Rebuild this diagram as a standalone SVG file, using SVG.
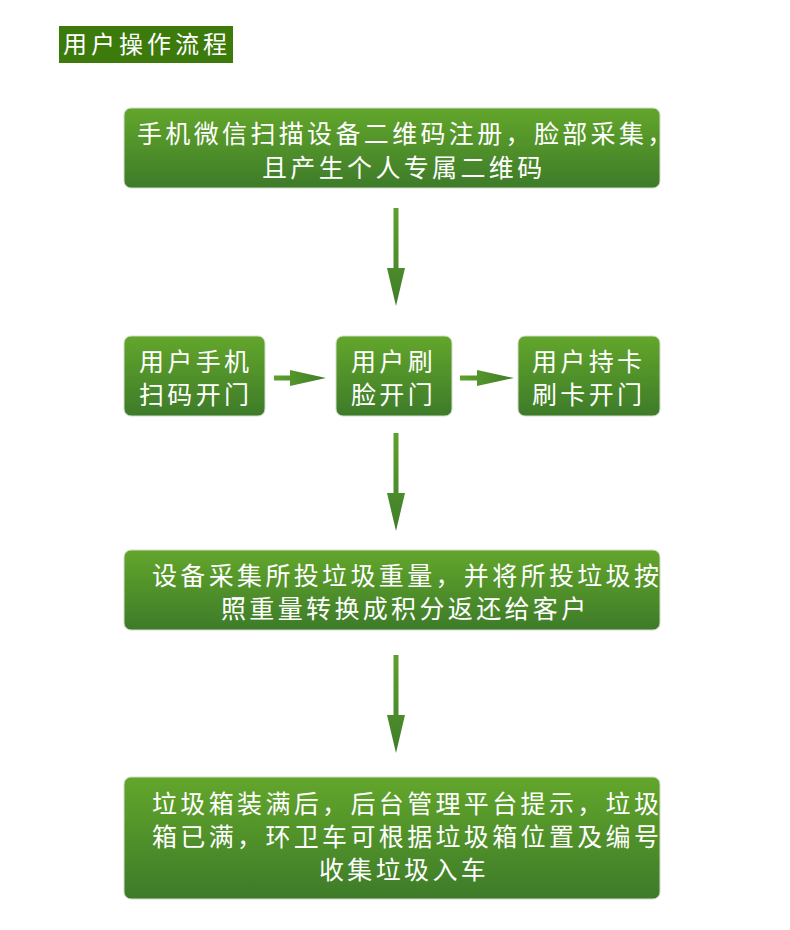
<svg xmlns="http://www.w3.org/2000/svg" width="790" height="930" viewBox="0 0 790 930">
<defs>
<linearGradient id="g" x1="0" y1="0" x2="0" y2="1">
<stop offset="0" stop-color="#63a62b"/>
<stop offset="1" stop-color="#3d7b29"/>
</linearGradient>
<linearGradient id="ga" x1="0" y1="0" x2="0" y2="1">
<stop offset="0" stop-color="#5ea02c"/>
<stop offset="1" stop-color="#3f7e2a"/>
</linearGradient>
<linearGradient id="gh" x1="0" y1="0" x2="1" y2="0">
<stop offset="0" stop-color="#5ea02c"/>
<stop offset="1" stop-color="#3f7e2a"/>
</linearGradient>
</defs>
<style>
.box{fill:url(#g);stroke:#d4dccd;stroke-width:1}
.t{font-family:"Noto Sans CJK SC","Noto Sans",sans-serif;font-size:25px;fill:#ffffff;letter-spacing:3.35px}
.tt{font-family:"Noto Sans CJK SC","Noto Sans",sans-serif;font-size:24px;fill:#ffffff;letter-spacing:4px}
</style>
<rect width="790" height="930" fill="#ffffff"/>
<g id="title">
<rect x="59" y="26" width="174" height="37" fill="#3b7a0b"/>
<text class="tt" x="63" y="53">用户操作流程</text>
</g>
<g id="n1">
<rect class="box" x="124" y="108" width="536" height="80" rx="7"/>
<text class="t" x="137" y="143">手机微信扫描设备二维码注册，脸部采集，</text>
<text class="t" x="262" y="177">且产生个人专属二维码</text>
</g>
<g id="n2">
<rect class="box" x="124" y="336" width="141" height="80" rx="7"/>
<text class="t" x="139" y="371">用户手机</text>
<text class="t" x="139" y="404">扫码开门</text>
</g>
<g id="n3">
<rect class="box" x="336" y="336" width="116" height="80" rx="7"/>
<text class="t" x="351" y="371">用户刷</text>
<text class="t" x="351" y="404">脸开门</text>
</g>
<g id="n4">
<rect class="box" x="518" y="336" width="142" height="80" rx="7"/>
<text class="t" x="532" y="371">用户持卡</text>
<text class="t" x="532" y="404">刷卡开门</text>
</g>
<g id="n5">
<rect class="box" x="124" y="550" width="536" height="80" rx="7"/>
<text class="t" x="152" y="585">设备采集所投垃圾重量，并将所投垃圾按</text>
<text class="t" x="221" y="618">照重量转换成积分返还给客户</text>
</g>
<g id="n6">
<rect class="box" x="124" y="777" width="536" height="122" rx="7"/>
<text class="t" x="152" y="813">垃圾箱装满后，后台管理平台提示，垃圾</text>
<text class="t" x="152" y="846">箱已满，环卫车可根据垃圾箱位置及编号</text>
<text class="t" x="319" y="879">收集垃圾入车</text>
</g>
<g id="connectors">
<path d="M393.5 208 H398.5 V268 H405 L396 306 L387 268 H393.5 Z" fill="url(#ga)"/>
<path d="M393.5 433 H398.5 V493 H405 L396 531 L387 493 H393.5 Z" fill="url(#ga)"/>
<path d="M393.5 655 H398.5 V715 H405 L396 753 L387 715 H393.5 Z" fill="url(#ga)"/>
<path d="M274 375.5 H290 V370 L326 378 L290 386 V380.5 H274 Z" fill="url(#gh)"/>
<path d="M460 375.5 H477 V370 L514 378 L477 386 V380.5 H460 Z" fill="url(#gh)"/>
</g>
</svg>
